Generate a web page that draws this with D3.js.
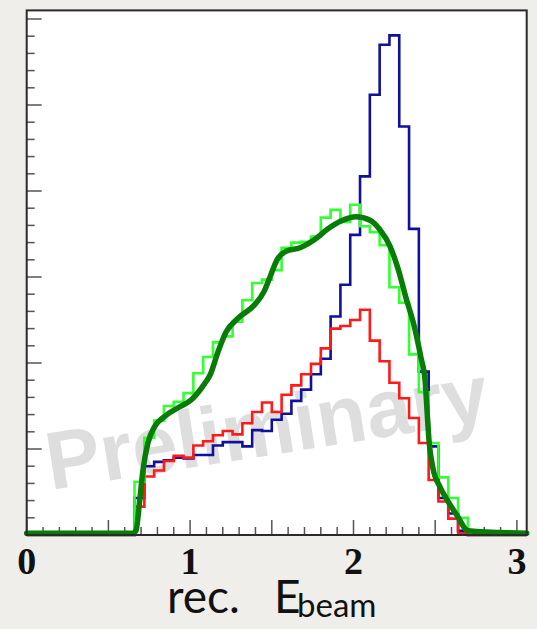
<!DOCTYPE html>
<html>
<head>
<meta charset="utf-8">
<script src="https://cdnjs.cloudflare.com/ajax/libs/d3/7.8.5/d3.min.js"></script>
<style>
  html, body { margin: 0; padding: 0; background: #efeeeb; }
  svg { display: block; }
</style>
</head>
<body>
<div id="plot"></div>
<script>
// histogram binning: 0.06 wide bins from 0 to 3.06, first filled bin is #11
var binWidth = 0.06;
var nBins = 51;
var firstBin = 11;

// bin contents (arbitrary units, one major y tick = 1)
var blueCounts = [0.43, 0.80, 0.85, 0.87, 0.90, 0.89, 0.93, 0.93, 1.04, 1.08, 1.08, 1.03,
  1.22, 1.21, 1.34, 1.41, 1.56, 1.69, 1.87, 2.05, 2.54, 2.91, 3.49, 4.17, 5.12, 5.70,
  5.81, 4.75, 3.56, 1.90, 1.03, 0.43, 0.25, 0.05, 0];
var redCounts = [0.33, 0.68, 0.75, 0.86, 0.92, 0.90, 1.04, 1.09, 1.16, 1.21, 1.17, 1.30,
  1.43, 1.54, 1.43, 1.63, 1.74, 1.87, 1.99, 2.17, 2.40, 2.43, 2.50, 2.62, 2.26, 2.02,
  1.77, 1.59, 1.36, 1.07, 0.64, 0.39, 0.19, 0.02, 0];
var greenCounts = [0.62, 1.13, 1.33, 1.50, 1.55, 1.65, 1.88, 2.07, 2.24, 2.31, 2.48, 2.73,
  2.93, 2.97, 3.08, 3.34, 3.40, 3.41, 3.47, 3.69, 3.78, 3.64, 3.84, 3.59, 3.52, 3.37,
  2.88, 2.70, 2.10, 1.66, 1.07, 0.67, 0.43, 0.20, 0.04, 0];

// smooth fit drawn on top
var fitX = [0, 0.65, 0.669, 0.692, 0.712, 0.742, 0.783, 0.845, 0.926, 1.006, 1.089, 1.122,
  1.171, 1.220, 1.293, 1.391, 1.452, 1.489, 1.532, 1.587, 1.673, 1.758, 1.844, 1.923,
  2.015, 2.101, 2.162, 2.223, 2.272, 2.321, 2.370, 2.413, 2.438, 2.450, 2.462, 2.486,
  2.529, 2.572, 2.633, 2.701, 3.06];
var fitY = [0.02, 0.02, 0.05, 0.41, 0.76, 1.07, 1.26, 1.38, 1.48, 1.57, 1.76, 1.86,
  2.13, 2.36, 2.52, 2.67, 2.83, 3.00, 3.20, 3.30, 3.34, 3.43, 3.56, 3.65,
  3.70, 3.66, 3.55, 3.36, 3.10, 2.76, 2.44, 2.06, 1.80, 1.45, 1.10, 0.78,
  0.56, 0.41, 0.23, 0.05, 0.02];

var xTickLabels = ["0", "1", "2", "3"];

var width = 537, height = 629;
var frame = { left: 26.7, top: 10.4, right: 526.7, bottom: 535 };

var svg = d3.select("#plot").append("svg")
  .attr("width", width)
  .attr("height", height);

// paper background + white pad
svg.append("rect").attr("width", width).attr("height", height).attr("fill", "#efeeeb");
svg.append("rect")
  .attr("x", frame.left).attr("y", frame.top)
  .attr("width", frame.right - frame.left).attr("height", frame.bottom - frame.top)
  .attr("fill", "#ffffff");

var x = d3.scaleLinear().domain([0, 3.06]).range([frame.left, frame.right]);
var y = d3.scaleLinear().domain([0, 6.1]).range([frame.bottom, frame.top]);

// watermark goes under everything
svg.append("text")
  .attr("transform", "translate(271,455) rotate(-9)")
  .attr("text-anchor", "middle")
  .attr("font-family", "'Liberation Sans', Arial, sans-serif")
  .attr("font-weight", "bold")
  .attr("font-size", 82)
  .attr("fill", "#dedede")
  .text("Preliminary");

// ticks, drawn inward like ROOT does
var tickCol = "#555";
var xMinor = d3.range(0, 3.0001, 0.1);
svg.append("g").selectAll("line").data(xMinor).enter().append("line")
  .attr("x1", function (d) { return x(d); })
  .attr("x2", function (d) { return x(d); })
  .attr("y1", frame.bottom)
  .attr("y2", function (d, i) { return frame.bottom - (i % 5 === 0 ? 15 : 8); })
  .attr("stroke", tickCol).attr("stroke-width", 1.5);

var yMinor = d3.range(0, 6.0001, 0.2);
svg.append("g").selectAll("line").data(yMinor).enter().append("line")
  .attr("x1", frame.left)
  .attr("x2", function (d, i) { return frame.left + (i % 5 === 0 ? 15 : 8); })
  .attr("y1", function (d) { return y(d); })
  .attr("y2", function (d) { return y(d); })
  .attr("stroke", tickCol).attr("stroke-width", 1.5);

// turn bin contents into step outlines
function histPoints(counts) {
  var pts = [];
  for (var i = 0; i < nBins; i++) {
    var j = i - firstBin;
    var v = (j >= 0 && j < counts.length) ? counts[j] : 0;
    pts.push([i * binWidth, v]);
  }
  pts.push([nBins * binWidth, 0]);
  return pts;
}

var step = d3.line()
  .x(function (d) { return x(d[0]); })
  .y(function (d) { return y(d[1]); })
  .curve(d3.curveStepAfter);

var series = [
  { counts: blueCounts, color: "#10109c" },
  { counts: redCounts, color: "#ff1a1a" },
  { counts: greenCounts, color: "#33ff33" }
];
series.forEach(function (s) {
  svg.append("path")
    .attr("d", step(histPoints(s.counts)))
    .attr("fill", "none")
    .attr("stroke", s.color)
    .attr("stroke-width", 2.6)
    .attr("stroke-linejoin", "miter");
});

// fitted curve
var fitLine = d3.line()
  .x(function (d, i) { return x(fitX[i]); })
  .y(function (d, i) { return y(fitY[i]); })
  .curve(d3.curveMonotoneX);
svg.append("path")
  .attr("d", fitLine(fitX))
  .attr("fill", "none")
  .attr("stroke", "#077c07")
  .attr("stroke-width", 5.5)
  .attr("stroke-linecap", "round")
  .attr("stroke-linejoin", "round");

// frame
svg.append("rect")
  .attr("x", frame.left).attr("y", frame.top)
  .attr("width", frame.right - frame.left).attr("height", frame.bottom - frame.top)
  .attr("fill", "none")
  .attr("stroke", "#2a2a2a")
  .attr("stroke-width", 2);

// x tick labels
svg.append("g").selectAll("text").data(xTickLabels).enter().append("text")
  .attr("x", function (d) { return x(+d); })
  .attr("y", 574)
  .attr("text-anchor", "middle")
  .attr("font-family", "'Liberation Serif', 'Times New Roman', serif")
  .attr("font-weight", "bold")
  .attr("font-size", 38)
  .attr("fill", "#111")
  .text(function (d) { return d; });

// axis title: rec. E_beam
var title = svg.append("text")
  .attr("y", 613)
  .attr("font-family", "Lato, 'Open Sans', sans-serif")
  .attr("fill", "#111");
title.append("tspan").attr("x", 167).attr("font-size", 46).text("rec.");
title.append("tspan").attr("x", 274).attr("font-size", 46).text("E");
title.append("tspan").attr("x", 297).attr("dy", 4).attr("font-size", 33).text("beam");
</script>
</body>
</html>
